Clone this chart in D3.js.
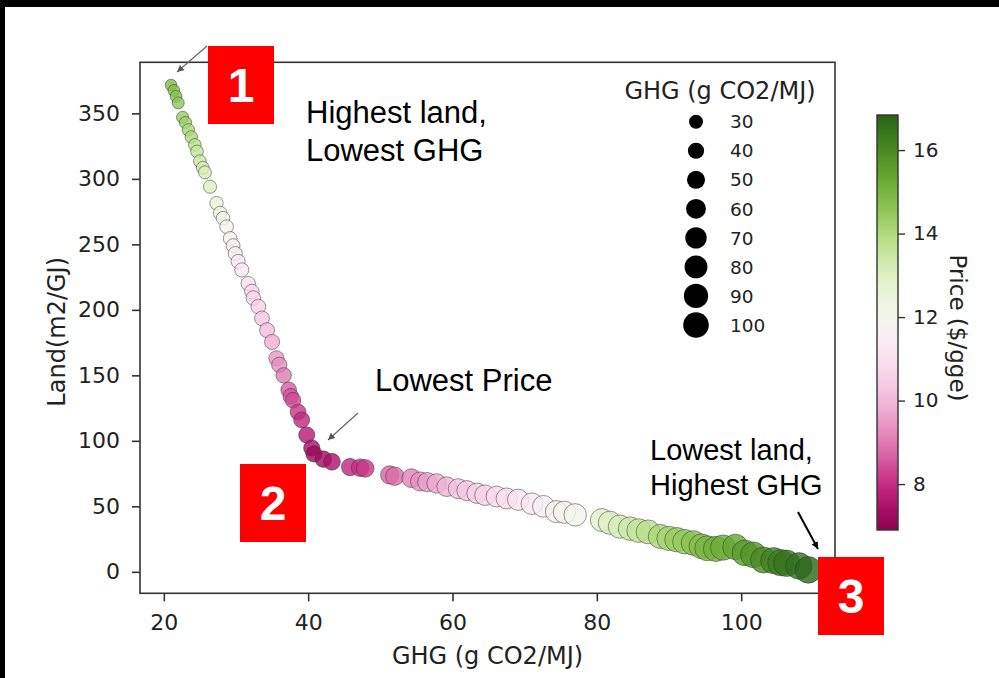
<!DOCTYPE html>
<html>
<head>
<meta charset="utf-8">
<script src="https://cdn.jsdelivr.net/npm/d3@7"></script>
<style>
  body { margin: 0; background: #fff; }
  svg { display: block; }
  text { font-family: "DejaVu Sans", sans-serif; fill: #222; }
  .note { font-family: "Liberation Sans", Arial, sans-serif; fill: #000; }
  .badge { font-family: "Liberation Sans", Arial, sans-serif; font-weight: bold; fill: #fff; }
</style>
</head>
<body>
<div id="chart"></div>
<script>
// points, top-left to bottom-right along the frontier
const ghg = [21.0, 21.4, 21.7, 22.0, 22.6, 23.0, 23.4, 23.8, 24.3, 24.6, 25.0, 25.4, 25.7, 26.4,
  27.3, 27.8, 28.2, 28.7, 29.2, 29.6, 29.9, 30.3, 30.8, 31.7, 32.2, 32.4, 33.1, 33.6, 34.3, 35.0,
  35.6, 36.0, 36.6, 37.3, 37.6, 37.9, 38.6, 39.1, 39.8, 40.5, 40.8,
  42.1, 43.3, 45.8, 47.2, 47.9, 51.3, 52.0, 54.3, 55.5, 56.5, 57.8, 59.2, 60.8, 62.0, 63.4, 64.5,
  66.1, 67.5, 69.1, 71.0, 72.6, 74.4, 75.5, 77.0, 80.7, 81.8, 83.2, 84.6, 85.8, 87.1, 88.8, 90.0,
  91.1, 92.2, 93.4, 94.5, 95.3, 96.5, 97.5, 99.2, 100.5, 101.7, 103.1, 104.5, 105.5, 106.3, 108.0, 109.3];
const land = [371.6, 367.5, 363.0, 358.0, 347.0, 343.0, 337.5, 332.0, 326.0, 321.0, 313.5, 308.5, 305.0, 294.0,
  281.5, 274.0, 270.0, 263.5, 254.5, 249.0, 243.0, 237.0, 230.5, 220.0, 214.0, 209.0, 202.5, 193.5, 184.5, 175.5,
  163.0, 158.0, 150.0, 139.0, 134.0, 131.0, 122.0, 116.0, 104.5, 94.5, 90.0,
  86.0, 84.0, 80.0, 79.5, 79.0, 74.0, 73.0, 71.5, 69.0, 68.5, 67.5, 65.0, 63.5, 62.0, 60.0, 58.5,
  57.5, 56.0, 55.0, 52.0, 50.0, 46.0, 45.5, 43.5, 39.5, 37.5, 34.5, 33.0, 31.5, 30.5, 27.0, 25.5,
  24.5, 23.0, 22.0, 19.5, 18.0, 17.5, 18.5, 19.0, 14.5, 13.0, 9.0, 8.5, 7.0, 6.5, 4.5, 1.5];
const price = [14.9, 14.8, 14.7, 14.6, 14.4, 14.3, 14.1, 14.0, 13.8, 13.6, 13.4, 13.3, 13.2, 13.0,
  12.6, 12.4, 12.2, 12.0, 11.8, 11.7, 11.6, 11.4, 11.2, 10.9, 10.8, 10.7, 10.5, 10.3, 10.1, 9.8,
  9.4, 9.3, 9.0, 8.6, 8.5, 8.4, 8.1, 7.9, 7.6, 7.3, 7.1,
  7.2, 7.4, 7.9, 8.0, 8.1, 8.7, 8.8, 9.1, 9.3, 9.5, 9.7, 9.9, 10.2, 10.3, 10.5, 10.6,
  10.8, 10.9, 11.1, 11.3, 11.5, 11.8, 11.9, 12.1, 12.9, 13.0, 13.2, 13.4, 13.6, 13.8, 14.1, 14.2,
  14.4, 14.5, 14.7, 14.8, 15.0, 15.1, 15.2, 15.4, 15.6, 15.8, 16.0, 16.2, 16.3, 16.5, 16.6, 16.8];

const xTicks = [20, 40, 60, 80, 100];
const yTicks = [0, 50, 100, 150, 200, 250, 300, 350];
const priceTicks = [8, 10, 12, 14, 16];
const sizeLegend = [30, 40, 50, 60, 70, 80, 90, 100];
const priceRange = [6.9, 16.84];

const W = 999, H = 678;
const plot = { left: 140, right: 835, top: 62.3, bottom: 593.3 };

const svg = d3.select('#chart').append('svg')
  .attr('width', W).attr('height', H);

svg.append('rect').attr('width', W).attr('height', H).attr('fill', '#fff');
// black frame left over from the screenshot
svg.append('rect').attr('width', W).attr('height', 7).attr('fill', '#000');
svg.append('rect').attr('width', 5).attr('height', H).attr('fill', '#000');

const x = d3.scaleLinear().domain([16.7, 113.0]).range([plot.left, plot.right]);
const y = d3.scaleLinear().domain([-16.4, 389]).range([plot.bottom, plot.top]);
const r = d3.scaleSqrt().domain([0, 100]).range([0, 12.8]);
const color = d3.scaleSequential(d3.interpolatePiYG).domain(priceRange);

// points
const pts = ghg.map((g, i) => ({ g, l: land[i], p: price[i] }));
svg.append('g').selectAll('circle')
  .data(pts)
  .join('circle')
  .attr('cx', d => x(d.g))
  .attr('cy', d => y(d.l))
  .attr('r', d => r(d.g))
  .attr('fill', d => color(d.p))
  .attr('fill-opacity', 0.8)
  .attr('stroke', '#333')
  .attr('stroke-opacity', 0.5)
  .attr('stroke-width', 1);

// axes
const xAxis = svg.append('g')
  .attr('transform', `translate(0,${plot.bottom})`)
  .call(d3.axisBottom(x).tickValues(xTicks).tickSize(8).tickPadding(13));
const yAxis = svg.append('g')
  .attr('transform', `translate(${plot.left},0)`)
  .call(d3.axisLeft(y).tickValues(yTicks).tickSize(8).tickPadding(12));
[xAxis, yAxis].forEach(a => {
  a.select('.domain').remove();
  a.selectAll('line').attr('stroke', '#333').attr('stroke-width', 1.6);
  a.selectAll('text').attr('font-size', 22).attr('fill', '#222')
    .attr('font-family', '"DejaVu Sans", sans-serif');
});

svg.append('rect')
  .attr('x', plot.left).attr('y', plot.top)
  .attr('width', plot.right - plot.left).attr('height', plot.bottom - plot.top)
  .attr('fill', 'none').attr('stroke', '#333').attr('stroke-width', 1.6);

svg.append('text')
  .attr('x', (plot.left + plot.right) / 2).attr('y', 664)
  .attr('text-anchor', 'middle').attr('font-size', 24)
  .text('GHG (g CO2/MJ)');
svg.append('text')
  .attr('transform', `translate(65,${(plot.top + plot.bottom) / 2 + 4}) rotate(-90)`)
  .attr('text-anchor', 'middle').attr('font-size', 24)
  .text('Land(m2/GJ)');

// size legend
const leg = svg.append('g');
leg.append('text')
  .attr('x', 720).attr('y', 99)
  .attr('text-anchor', 'middle').attr('font-size', 24)
  .text('GHG (g CO2/MJ)');
const legY = d3.scalePoint().domain(sizeLegend).range([121.7, 325]);
const row = leg.selectAll('g.row').data(sizeLegend).join('g').attr('class', 'row')
  .attr('transform', d => `translate(0,${legY(d)})`);
row.append('circle').attr('cx', 696).attr('r', d => r(d)).attr('fill', '#000');
row.append('text').attr('x', 730).attr('dy', '0.36em').attr('font-size', 18.5)
  .text(d => d);

// colorbar
const cb = { x: 877, w: 21 };
const cy = d3.scaleLinear().domain(priceRange).range([530, 115]);
const grad = svg.append('defs').append('linearGradient')
  .attr('id', 'cbgrad').attr('x1', 0).attr('x2', 0).attr('y1', 1).attr('y2', 0);
grad.selectAll('stop').data(d3.range(0, 1.0001, 0.05)).join('stop')
  .attr('offset', d => d)
  .attr('stop-color', d => color(priceRange[0] + d * (priceRange[1] - priceRange[0])));
svg.append('rect')
  .attr('x', cb.x).attr('y', cy(priceRange[1]))
  .attr('width', cb.w).attr('height', cy(priceRange[0]) - cy(priceRange[1]))
  .attr('fill', 'url(#cbgrad)').attr('stroke', '#333').attr('stroke-width', 1.4);
const cAxis = svg.append('g')
  .attr('transform', `translate(${cb.x + cb.w},0)`)
  .call(d3.axisRight(cy).tickValues(priceTicks).tickSize(7).tickPadding(8));
cAxis.select('.domain').remove();
cAxis.selectAll('line').attr('stroke', '#333').attr('stroke-width', 1.4);
cAxis.selectAll('text').attr('font-size', 20).attr('fill', '#222')
  .attr('font-family', '"DejaVu Sans", sans-serif');
svg.append('text')
  .attr('transform', 'translate(958,328) rotate(90)')
  .attr('text-anchor', 'middle').attr('dy', '0.35em').attr('font-size', 23)
  .text('Price ($/gge)');

// annotations
const defs = svg.select('defs');
[['headGray', '#555'], ['headBlack', '#000']].forEach(([id, c]) => {
  defs.append('marker').attr('id', id)
    .attr('viewBox', '0 0 10 10').attr('refX', 10).attr('refY', 5)
    .attr('markerWidth', 7).attr('markerHeight', 7).attr('orient', 'auto')
    .attr('markerUnits', 'userSpaceOnUse')
    .append('path').attr('d', 'M0,0 L10,5 L0,10 z').attr('fill', c);
});
const arrows = [
  { x1: 207, y1: 46, x2: 177, y2: 72, c: '#666', w: 1.2, m: 'headGray' },
  { x1: 358, y1: 413, x2: 328, y2: 440, c: '#666', w: 1.2, m: 'headGray' },
  { x1: 798, y1: 512, x2: 818, y2: 549, c: '#000', w: 2, m: 'headBlack' }
];
svg.selectAll('line.arrow').data(arrows).join('line').attr('class', 'arrow')
  .attr('x1', d => d.x1).attr('y1', d => d.y1)
  .attr('x2', d => d.x2).attr('y2', d => d.y2)
  .attr('stroke', d => d.c).attr('stroke-width', d => d.w)
  .attr('marker-end', d => `url(#${d.m})`);

const notes = [
  { x: 306, y: 123, size: 31, lines: ['Highest land,', 'Lowest GHG'], gap: 38 },
  { x: 375, y: 391, size: 31, lines: ['Lowest Price'], gap: 0 },
  { x: 650, y: 460, size: 29, lines: ['Lowest land,', 'Highest GHG'], gap: 35 }
];
notes.forEach(n => {
  const t = svg.append('text').attr('class', 'note')
    .attr('x', n.x).attr('y', n.y).attr('font-size', n.size);
  n.lines.forEach((s, i) => t.append('tspan').attr('x', n.x).attr('dy', i ? n.gap : 0).text(s));
});

const badges = [
  { label: '1', x: 208, y: 46 },
  { label: '2', x: 240, y: 464 },
  { label: '3', x: 818, y: 557 }
];
const b = svg.selectAll('g.badge').data(badges).join('g')
  .attr('transform', d => `translate(${d.x},${d.y})`);
b.append('rect').attr('width', 66).attr('height', 78).attr('fill', '#ff0000');
b.append('text').attr('class', 'badge')
  .attr('x', 33).attr('y', 39).attr('dy', '0.36em')
  .attr('text-anchor', 'middle').attr('font-size', 48)
  .text(d => d.label);
</script>
</body>
</html>
